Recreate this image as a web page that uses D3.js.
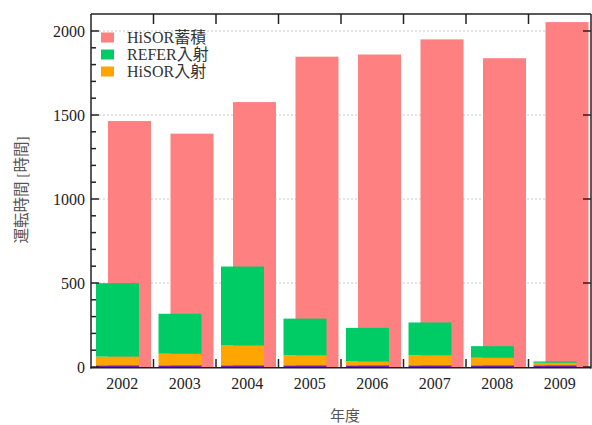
<!DOCTYPE html>
<html><head><meta charset="utf-8">
<script src="https://cdn.jsdelivr.net/npm/d3@7"></script>
<style>body{margin:0;background:#fff}svg{display:block}</style>
</head><body>
<svg id="c" width="592" height="425"></svg>
<script>
const years = ["2002","2003","2004","2005","2006","2007","2008","2009"];
const hisorStored = [1464,1389,1577,1847,1860,1950,1838,2053];
const baseSeries = [10,10,10,10,10,10,10,10];
const hisorInj = [52,69,118,60,23,60,45,15];
const referInj = [437,238,470,218,200,195,69,8];
const yTicks = [0,500,1000,1500,2000];
const legendLabels = ["HiSOR蓄積","REFER入射","HiSOR入射"];
const colors = {stored:"#FF8080", refer:"#00CC66", hisor:"#FFA500", base:"#7020B0"};

const svg = d3.select("#c");
const L=91, R=591, T=14, B=367;
const x = d3.scaleBand().domain(years).range([L,R]).padding(0);
const y = d3.scaleLinear().domain([0,2000]).range([B,31]);
const bw = x.bandwidth();
const serif = "Liberation Serif, Times New Roman, Noto Sans CJK JP, serif";

// grid
svg.append("g").selectAll("line").data(yTicks.filter(d=>d>0)).join("line")
  .attr("x1",L).attr("x2",R).attr("y1",d=>y(d)).attr("y2",d=>y(d))
  .attr("stroke","#c8c8c8").attr("stroke-width",1).attr("stroke-dasharray","2,2");

// stored bars
const barW = 43;
svg.append("g").selectAll("rect").data(years).join("rect")
  .attr("x",d=>x(d)+17).attr("width",barW)
  .attr("y",(d,i)=>y(hisorStored[i])).attr("height",(d,i)=>B-y(hisorStored[i]))
  .attr("fill",colors.stored);

// stacked injection bars
const rows = years.map((yr,i)=>({year:yr, base:baseSeries[i], hisor:hisorInj[i], refer:referInj[i]}));
const stack = d3.stack().keys(["base","hisor","refer"])(rows);
svg.append("g").selectAll("g").data(stack).join("g")
  .attr("fill",s=>colors[s.key])
  .selectAll("rect").data(s=>s).join("rect")
  .attr("x",d=>x(d.data.year)+5).attr("width",barW)
  .attr("y",d=>y(d[1])).attr("height",d=>y(d[0])-y(d[1]));

// axes
const axCol="#222";
const gy = svg.append("g");
gy.selectAll("line").data(d3.range(0,2001,100)).join("line")
  .attr("x1",L).attr("x2",d=>L+(d%500===0?8:5)).attr("y1",d=>y(d)).attr("y2",d=>y(d))
  .attr("stroke",axCol).attr("stroke-width",1.5);
const gyr = svg.append("g");
gyr.selectAll("line").data(yTicks).join("line")
  .attr("x1",R).attr("x2",R-8).attr("y1",d=>y(d)).attr("y2",d=>y(d))
  .attr("stroke",axCol).attr("stroke-width",1.5);
gy.selectAll("text").data(yTicks).join("text")
  .attr("x",85).attr("y",d=>y(d)).attr("dy","0.35em").attr("text-anchor","end")
  .attr("font-family",serif).attr("font-size",16).attr("fill","#222").text(d=>d);

// x ticks at band boundaries
const bounds = years.slice(1).map(d=>x(d));
svg.append("g").selectAll("line").data(bounds).join("line")
  .attr("x1",d=>d).attr("x2",d=>d).attr("y1",B).attr("y2",B-8)
  .attr("stroke",axCol).attr("stroke-width",1.5);
svg.append("g").selectAll("line").data(bounds).join("line")
  .attr("x1",d=>d).attr("x2",d=>d).attr("y1",T).attr("y2",T+10)
  .attr("stroke",axCol).attr("stroke-width",1.5);
svg.append("g").selectAll("text").data(years).join("text")
  .attr("x",d=>x(d)+bw/2).attr("y",389).attr("text-anchor","middle")
  .attr("font-family",serif).attr("font-size",16).attr("fill","#222").text(d=>d);

// frame
const fr = svg.append("g").attr("stroke",axCol).attr("stroke-width",1.5);
fr.append("line").attr("x1",L).attr("x2",R).attr("y1",T).attr("y2",T);
fr.append("line").attr("x1",L-0.75).attr("x2",R).attr("y1",B+0.75).attr("y2",B+0.75);
fr.append("line").attr("x1",L).attr("x2",L).attr("y1",T).attr("y2",B+1.5);
fr.append("line").attr("x1",R).attr("x2",R).attr("y1",T).attr("y2",B+1.5);

// titles
svg.append("text").attr("transform","translate(27,190) rotate(-90)")
  .attr("text-anchor","middle").attr("font-family",serif).attr("font-size",15.5)
  .attr("fill","#555").text("運転時間 [時間]");
svg.append("text").attr("x",345).attr("y",421).attr("text-anchor","middle")
  .attr("font-family",serif).attr("font-size",15).attr("fill","#555").text("年度");

// legend
const lg = svg.append("g");
const lc=[colors.stored,colors.refer,colors.hisor];
legendLabels.forEach((t,i)=>{
  const cy = 37.5 + i*17;
  lg.append("rect").attr("x",101).attr("y",cy-5).attr("width",13).attr("height",10).attr("fill",lc[i]);
  lg.append("text").attr("x",127).attr("y",cy).attr("dy","0.35em")
    .attr("font-family",serif).attr("font-size",16).attr("fill","#333").text(t);
});
</script>
</body></html>
